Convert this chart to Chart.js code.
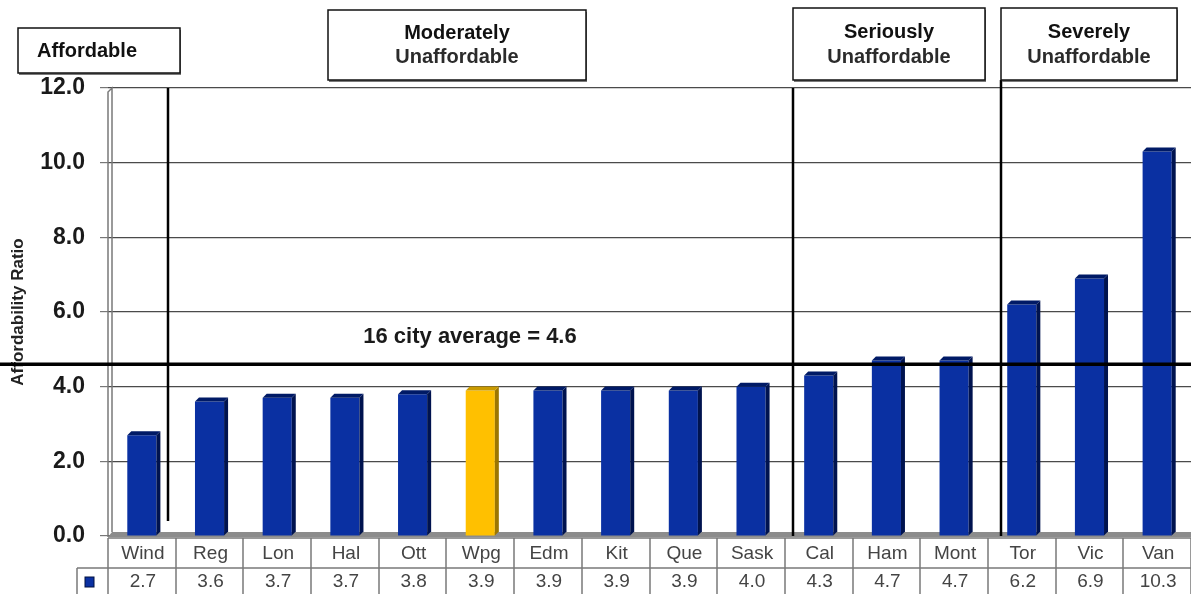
<!DOCTYPE html>
<html>
<head>
<meta charset="utf-8">
<title>Housing Affordability Ratio by City</title>
<script src="https://cdn.jsdelivr.net/npm/chart.js@4.4.1/dist/chart.umd.min.js"></script>
<style>
  html, body { margin: 0; padding: 0; background: #ffffff; }
  #wrap { width: 1191px; height: 594px; position: relative; }
</style>
</head>
<body>
<div id="wrap"><canvas id="chart" width="1191" height="594"></canvas></div>
<script>
// City abbreviations, left to right
const cities = ['Wind', 'Reg', 'Lon', 'Hal', 'Ott', 'Wpg', 'Edm', 'Kit', 'Que', 'Sask', 'Cal', 'Ham', 'Mont', 'Tor', 'Vic', 'Van'];
// Median multiple (house price / household income)
const ratios = [2.7, 3.6, 3.7, 3.7, 3.8, 3.9, 3.9, 3.9, 3.9, 4.0, 4.3, 4.7, 4.7, 6.2, 6.9, 10.3];
const highlightCity = 'Wpg';
const yTickValues = [0, 2, 4, 6, 8, 10, 12];
const cityAverage = 4.6;
const averageLabel = '16 city average = 4.6';
const categoryTitles = [
  ['Affordable'],
  ['Moderately', 'Unaffordable'],
  ['Seriously', 'Unaffordable'],
  ['Severely', 'Unaffordable']
];

const BLUE = '#0a30a2';
const BLUE_SIDE = '#00134f';
const BLUE_TOP = '#001a66';
const GOLD = '#ffc000';
const GOLD_SIDE = '#9c7600';
const GOLD_TOP = '#c99a00';
const DEPTH = 4;
const FONT = '"Liberation Sans", Arial, sans-serif';

// Where each category box sits and where its divider falls (in category units)
const boxLayout = [
  { x: 18,   y: 28, w: 162, h: 45, align: 'left', tx: 37, ty: [51] },
  { x: 328,  y: 10, w: 258, h: 70, align: 'center', tx: 457, ty: [33, 57] },
  { x: 793,  y: 8,  w: 192, h: 72, align: 'center', tx: 889, ty: [32, 57] },
  { x: 1001, y: 8,  w: 176, h: 72, align: 'center', tx: 1089, ty: [32, 57] }
];
const dividers = [
  { at: 0.39, from: 12, to: 0.4, overTop: 0 },
  { at: 9.62, from: 12, to: 0, overTop: 0 },
  { at: 12.69, from: 12, to: 0, overTop: 8 }
];

const isHighlight = c => c === highlightCity;

const decorations = {
  id: 'decorations',
  beforeDatasetsDraw(chart) {
    const { ctx, chartArea: a } = chart;
    ctx.save();
    // floor of the plot
    ctx.fillStyle = '#8c8c8c';
    ctx.beginPath();
    ctx.moveTo(a.left, a.bottom + 1);
    ctx.lineTo(a.right, a.bottom + 1);
    ctx.lineTo(a.right, a.bottom - 4);
    ctx.lineTo(a.left + DEPTH, a.bottom - 4);
    ctx.closePath();
    ctx.fill();
    // side wall
    ctx.strokeStyle = '#7a7a7a';
    ctx.lineWidth = 1.5;
    ctx.beginPath();
    ctx.moveTo(a.left, a.bottom + 1);
    ctx.lineTo(a.left, a.top + DEPTH);
    ctx.lineTo(a.left + DEPTH, a.top);
    ctx.lineTo(a.left + DEPTH, a.bottom - 4);
    ctx.stroke();
    ctx.restore();
  },
  afterDatasetsDraw(chart) {
    const { ctx, chartArea: a, scales: { x, y } } = chart;
    const meta = chart.getDatasetMeta(0);
    ctx.save();

    // bar side and top faces
    meta.data.forEach((bar, i) => {
      const p = bar.getProps(['x', 'y', 'base', 'width'], true);
      const l = p.x - p.width / 2, r = p.x + p.width / 2;
      const hl = isHighlight(cities[i]);
      ctx.fillStyle = hl ? GOLD_SIDE : BLUE_SIDE;
      ctx.beginPath();
      ctx.moveTo(r, p.y);
      ctx.lineTo(r + DEPTH, p.y - DEPTH);
      ctx.lineTo(r + DEPTH, p.base - DEPTH);
      ctx.lineTo(r, p.base);
      ctx.closePath();
      ctx.fill();
      ctx.fillStyle = hl ? GOLD_TOP : BLUE_TOP;
      ctx.beginPath();
      ctx.moveTo(l, p.y);
      ctx.lineTo(l + DEPTH, p.y - DEPTH);
      ctx.lineTo(r + DEPTH, p.y - DEPTH);
      ctx.lineTo(r, p.y);
      ctx.closePath();
      ctx.fill();
    });

    const step = x.getPixelForValue(1) - x.getPixelForValue(0);
    const x0 = x.getPixelForValue(0);

    // category dividers
    ctx.strokeStyle = '#000';
    ctx.lineWidth = 2.5;
    dividers.forEach(d => {
      const px = Math.round(x0 + d.at * step);
      ctx.beginPath();
      ctx.moveTo(px, y.getPixelForValue(d.from) - d.overTop);
      ctx.lineTo(px, y.getPixelForValue(d.to));
      ctx.stroke();
    });

    // average line
    const ay = y.getPixelForValue(cityAverage);
    ctx.lineWidth = 3.5;
    ctx.beginPath();
    ctx.moveTo(0, ay);
    ctx.lineTo(chart.width, ay);
    ctx.stroke();
    ctx.fillStyle = '#1a1a1a';
    ctx.font = 'bold 22px ' + FONT;
    ctx.textAlign = 'center';
    ctx.textBaseline = 'middle';
    ctx.fillText(averageLabel, 470, 337);

    // category boxes
    boxLayout.forEach((b, i) => {
      ctx.fillStyle = '#7a7a7a';
      ctx.fillRect(b.x + 1, b.y + 2, b.w, b.h);
      ctx.fillStyle = '#fff';
      ctx.fillRect(b.x, b.y, b.w, b.h);
      ctx.strokeStyle = '#111';
      ctx.lineWidth = 1.5;
      ctx.strokeRect(b.x, b.y, b.w, b.h);
      ctx.textAlign = b.align;
      ctx.textBaseline = 'middle';
      categoryTitles[i].forEach((line, k) => {
        ctx.fillStyle = k === 0 ? '#111' : '#2b2b2b';
        ctx.font = 'bold 20px ' + FONT;
        ctx.fillText(line, b.tx, b.ty[k]);
      });
    });

    // data table under the plot
    const tTop = a.bottom + 2, tMid = a.bottom + 32, tBot = chart.height;
    const keyLeft = 77;
    ctx.strokeStyle = '#7a7a7a';
    ctx.lineWidth = 1.5;
    ctx.beginPath();
    ctx.moveTo(a.left, tTop); ctx.lineTo(a.right, tTop);
    ctx.moveTo(keyLeft, tMid); ctx.lineTo(a.right, tMid);
    ctx.moveTo(keyLeft, tMid); ctx.lineTo(keyLeft, tBot);
    for (let k = 0; k <= cities.length; k++) {
      const px = Math.round(x0 - step / 2 + k * step);
      ctx.moveTo(px, tTop); ctx.lineTo(px, tBot);
    }
    ctx.stroke();

    ctx.fillStyle = BLUE;
    ctx.fillRect(85, tMid + 9, 9, 10);
    ctx.strokeStyle = '#001040';
    ctx.lineWidth = 1;
    ctx.strokeRect(85, tMid + 9, 9, 10);

    ctx.fillStyle = '#444';
    ctx.font = '19px ' + FONT;
    ctx.textAlign = 'center';
    ctx.textBaseline = 'middle';
    cities.forEach((c, i) => {
      const cx = x.getPixelForValue(i) + 1;
      ctx.fillText(c, cx, (tTop + tMid) / 2 + 1);
      ctx.fillText(ratios[i].toFixed(1), cx, (tMid + tBot) / 2 + 1);
    });

    ctx.restore();
  }
};

new Chart(document.getElementById('chart'), {
  type: 'bar',
  data: {
    labels: cities,
    datasets: [{
      data: ratios,
      backgroundColor: cities.map(c => isHighlight(c) ? GOLD : BLUE),
      borderWidth: 0,
      barPercentage: 0.43,
      categoryPercentage: 1
    }]
  },
  options: {
    responsive: false,
    animation: false,
    devicePixelRatio: 1,
    layout: { padding: { top: 88, bottom: 58, left: 0, right: 0 } },
    plugins: { legend: { display: false }, tooltip: { enabled: false } },
    scales: {
      x: { display: false },
      y: {
        min: 0,
        max: 12,
        afterBuildTicks: s => { s.ticks = yTickValues.map(v => ({ value: v })); },
        afterFit: s => { s.width = 108; },
        grid: { color: '#4a4a4a', lineWidth: 1.2, tickLength: 8, tickColor: '#777' },
        border: { display: false },
        ticks: {
          padding: 15,
          color: '#1a1a1a',
          font: { family: FONT, size: 23, weight: 'bold' },
          callback: v => Number(v).toFixed(1)
        },
        title: {
          display: true,
          text: 'Affordability Ratio',
          color: '#222',
          font: { family: FONT, size: 17, weight: 'bold' },
          padding: { top: 8, bottom: 0 }
        }
      }
    }
  },
  plugins: [decorations]
});
</script>
</body>
</html>
